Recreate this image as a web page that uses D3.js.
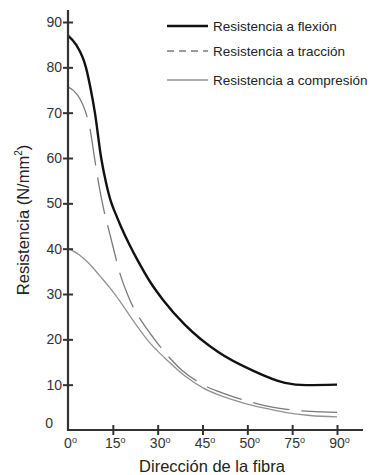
<!DOCTYPE html>
<html><head><meta charset="utf-8">
<script src="https://cdn.jsdelivr.net/npm/d3@7/dist/d3.min.js"></script>
<style>
html,body{margin:0;padding:0;background:#fff;}
svg{display:block;font-family:"Liberation Sans",Arial,sans-serif;}
</style></head>
<body><svg id="c" width="371" height="475"></svg>
<script>
// Category positions (index along the x axis) and labels
const angleLabels = ["0","15","30","45","50","75","90"];
const yTickValues = [0,10,20,30,40,50,60,70,80,90];
const seriesNames = ["Resistencia a flexión","Resistencia a tracción","Resistencia a compresión"];

// Resistencia a flexión (x = position index along axis, y = N/mm²)
const flexX = [0,0.18,0.40,0.51,0.60,0.74,0.85,0.96,1.07,1.18,1.38,1.56,1.83,2.12,2.61,3.35,4.10,4.84,5.31,6];
const flexY = [87,85,80,75,70,60,54.5,50.3,47.5,44.9,40.7,37.3,32.7,28.7,23.2,17.2,13.2,10.4,9.9,10];
// Resistencia a tracción
const tracX = [0,0.13,0.27,0.38,0.49,0.60,0.69,0.80,0.94,1.16,1.38,1.76,1.90,2.54,3.01,3.35,3.66,3.90,4.39,4.84,5.40,6];
const tracY = [75.7,74.8,73,70.5,66.5,59.5,54,48.5,43,34.5,28.7,22.3,20.4,13.2,10,8.5,7.4,6.7,5.4,4.6,4.1,3.9];
// Resistencia a compresión
const compX = [0,0.27,0.49,0.71,0.94,1.16,1.38,1.61,1.76,1.99,2.21,2.61,3.01,3.35,3.90,4.39,4.84,5.40,6];
const compY = [40,38.5,36.5,34,31.3,28.4,25.2,22,20,17.5,15.4,11.9,9.3,7.8,6.0,4.8,3.9,3.2,2.9];

const svg = d3.select("#c");
const x = d3.scaleLinear().domain([0,6]).range([68,337]);
const y = d3.scaleLinear().domain([0,90]).range([430,22]);
const axisColor = "#333";

// plot lines
const line = d3.line().x(d=>x(d[0])).y(d=>y(d[1])).curve(d3.curveMonotoneX);
const zip = (a,b)=>a.map((v,i)=>[v,b[i]]);
const series = [
  {pts: zip(compX,compY), color:"#929292", width:1.3, dash:null},
  {pts: zip(tracX,tracY), color:"#7a7a7a", width:1.3, dash:"37,12"},
  {pts: zip(flexX,flexY), color:"#111", width:2.4, dash:null}
];
series.forEach(s=>{
  svg.append("path").attr("d",line(s.pts)).attr("fill","none")
    .attr("stroke",s.color).attr("stroke-width",s.width)
    .attr("stroke-dasharray",s.dash);
});

// Y axis
const yAxis = d3.axisLeft(y).tickValues(yTickValues).tickSize(5).tickFormat(d3.format("d"));
const gy = svg.append("g").attr("transform","translate(68,0)").call(yAxis);
gy.select(".domain").remove();
gy.selectAll(".tick line").attr("x1",5).attr("stroke",axisColor).attr("stroke-width",2);
gy.selectAll(".tick text").attr("x",-6).attr("font-size",14)
  .attr("fill",axisColor).attr("font-family","Liberation Sans, Arial, sans-serif");
gy.selectAll(".tick").filter(d=>d===0).select("line").remove();
gy.selectAll(".tick").filter(d=>d===0).select("text").attr("x",-15).attr("dy","-0.15em");

// X axis
const xAxis = d3.axisBottom(x).tickValues(d3.range(angleLabels.length)).tickSize(5).tickFormat(()=>"");
const gx = svg.append("g").attr("transform","translate(0,430)").call(xAxis);
gx.select(".domain").remove();
gx.selectAll(".tick line").attr("y1",-5).attr("stroke",axisColor).attr("stroke-width",2);
gx.selectAll(".tick").filter(d=>d===0).select("line").remove();
gx.selectAll(".tick text").attr("y",8).attr("dx",2).attr("font-size",14).attr("fill",axisColor)
  .attr("font-family","Liberation Sans, Arial, sans-serif")
  .each(function(d){
    const t = d3.select(this);
    t.append("tspan").text(angleLabels[d]);
    t.append("tspan").attr("font-size",9).attr("dy",-5).text("o");
  });

// axis lines
svg.append("line").attr("x1",68).attr("x2",68).attr("y1",10).attr("y2",431)
  .attr("stroke",axisColor).attr("stroke-width",2.2);
svg.append("line").attr("x1",67).attr("x2",363).attr("y1",430).attr("y2",430)
  .attr("stroke",axisColor).attr("stroke-width",2.2);

// axis titles
svg.append("text").attr("x",212).attr("y",472).attr("text-anchor","middle")
  .attr("font-size",16.5).attr("fill","#222").text("Dirección de la fibra");
const yt = svg.append("text").attr("transform","translate(29,220) rotate(-90)")
  .attr("text-anchor","middle").attr("font-size",16.5).attr("fill","#222");
yt.append("tspan").text("Resistencia (N/mm");
yt.append("tspan").attr("font-size",10).attr("dy",-7).text("2");
yt.append("tspan").attr("dy",7).text(")");

// legend
const legY = [26,51,80];
const legStyle = [
  {color:"#111", width:2.4, dash:null},
  {color:"#7a7a7a", width:1.3, dash:"7,5"},
  {color:"#929292", width:1.3, dash:null}
];
seriesNames.forEach((n,i)=>{
  svg.append("line").attr("x1",167).attr("x2",208).attr("y1",legY[i]).attr("y2",legY[i])
    .attr("stroke",legStyle[i].color).attr("stroke-width",legStyle[i].width)
    .attr("stroke-dasharray",legStyle[i].dash);
  svg.append("text").attr("x",213).attr("y",legY[i]).attr("dy","0.35em")
    .attr("font-size",13.5).attr("fill","#222").text(n);
});
</script></body></html>
